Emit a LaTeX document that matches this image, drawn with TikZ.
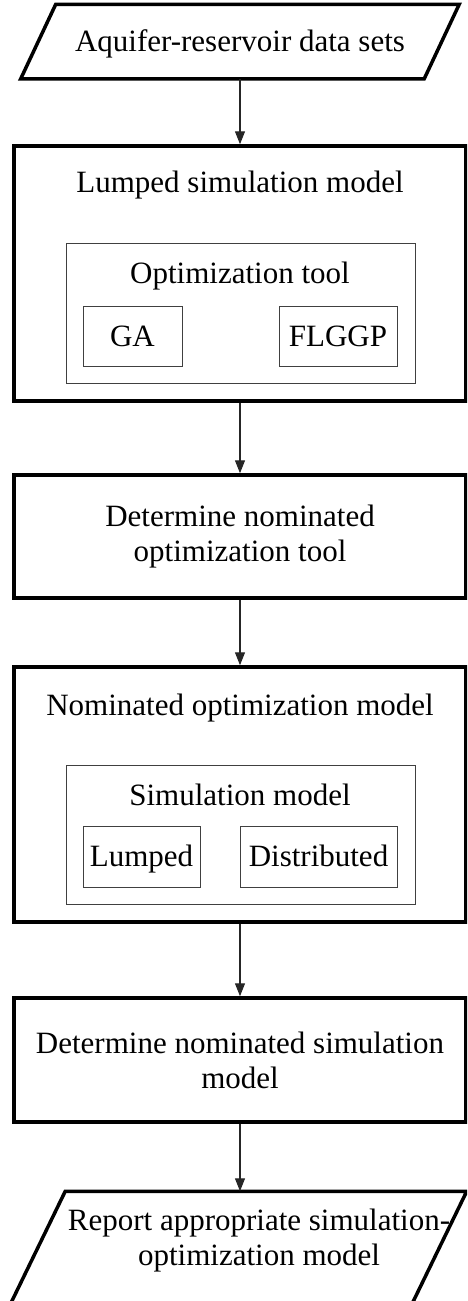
\documentclass[tikz,border=0pt]{standalone}
\usepackage{fontspec}
\setmainfont{Liberation Serif}
\usetikzlibrary{arrows.meta}

\tikzset{
  outer/.style={draw, line width=3.5pt, minimum width=452pt},
  inner/.style={draw=black!75, line width=1pt},
  io/.style={line width=3.5pt, line join=miter},
  captext/.style={text height=20.5pt, text depth=0pt},
  flow/.style={-{Triangle[length=13pt,width=10pt]}, line width=1.2pt, draw=black!85}
}

\begin{document}
\begin{tikzpicture}[x=1pt, y=-1pt, inner sep=0pt, font=\fontsize{31}{35}\selectfont]
    \clip (0,0) rectangle (467,1301);
    \node(data)[captext, outer sep=1.75pt, minimum width=400pt, minimum height=71pt] at (240,41.5) {Aquifer-reservoir data sets};
    \draw[io] ([xshift=17.5pt]data.north west) -- ([xshift=17.5pt]data.north east)
        -- ([xshift=-17.5pt]data.south east) -- ([xshift=-17.5pt]data.south west) -- cycle;

    \node(lsm)[outer, minimum height=255pt] at (240,273.5) {};
    \node(lsmtitle)[captext] at (240,182) {Lumped simulation model};
    \node(opt)[inner, minimum width=349pt, minimum height=140pt] at (240.5,313) {};
    \node(opttitle)[captext] at (240,273) {Optimization tool};
    \node(ga)[inner, captext, minimum width=99pt, minimum height=60pt] at (132.5,336) {GA};
    \node(flggp)[inner, captext, minimum width=118pt, minimum height=60pt] at (338,336) {FLGGP};

    \node(detopt)[outer, align=center, minimum height=123pt] at (240,536.5) {Determine nominated\\optimization tool};

    \node(nom)[outer, minimum height=255pt] at (240,794.5) {};
    \node(nomtitle)[captext] at (240,705) {Nominated optimization model};
    \node(sim)[inner, minimum width=349pt, minimum height=139pt] at (240.5,834.5) {};
    \node(simtitle)[captext] at (240,795) {Simulation model};
    \node(lumped)[inner, captext, minimum width=117pt, minimum height=61pt] at (141.5,856.5) {Lumped};
    \node(distr)[inner, captext, minimum width=157pt, minimum height=61pt] at (318.5,856.5) {Distributed};

    \node(detsim)[outer, align=center, minimum height=124pt] at (240,1060) {Determine nominated simulation\\model};

    \node(report)[outer sep=1.75pt, minimum width=398pt, minimum height=120pt] at (236,1253) {};
    \draw[io] ([xshift=30pt]report.north west) -- ([xshift=30pt]report.north east)
        -- ([xshift=-30pt]report.south east) -- ([xshift=-30pt]report.south west) -- cycle;
    \node(reporttext)[align=center] at (259,1241) {Report appropriate simulation-\\optimization model};

    \draw[flow] (data.south) -- (lsm.north);
    \draw[flow] (lsm.south) -- (detopt.north);
    \draw[flow] (detopt.south) -- (nom.north);
    \draw[flow] (nom.south) -- (detsim.north);
    \draw[flow] (detsim.south) -- (detsim.south |- report.north);
\end{tikzpicture}
\end{document}
